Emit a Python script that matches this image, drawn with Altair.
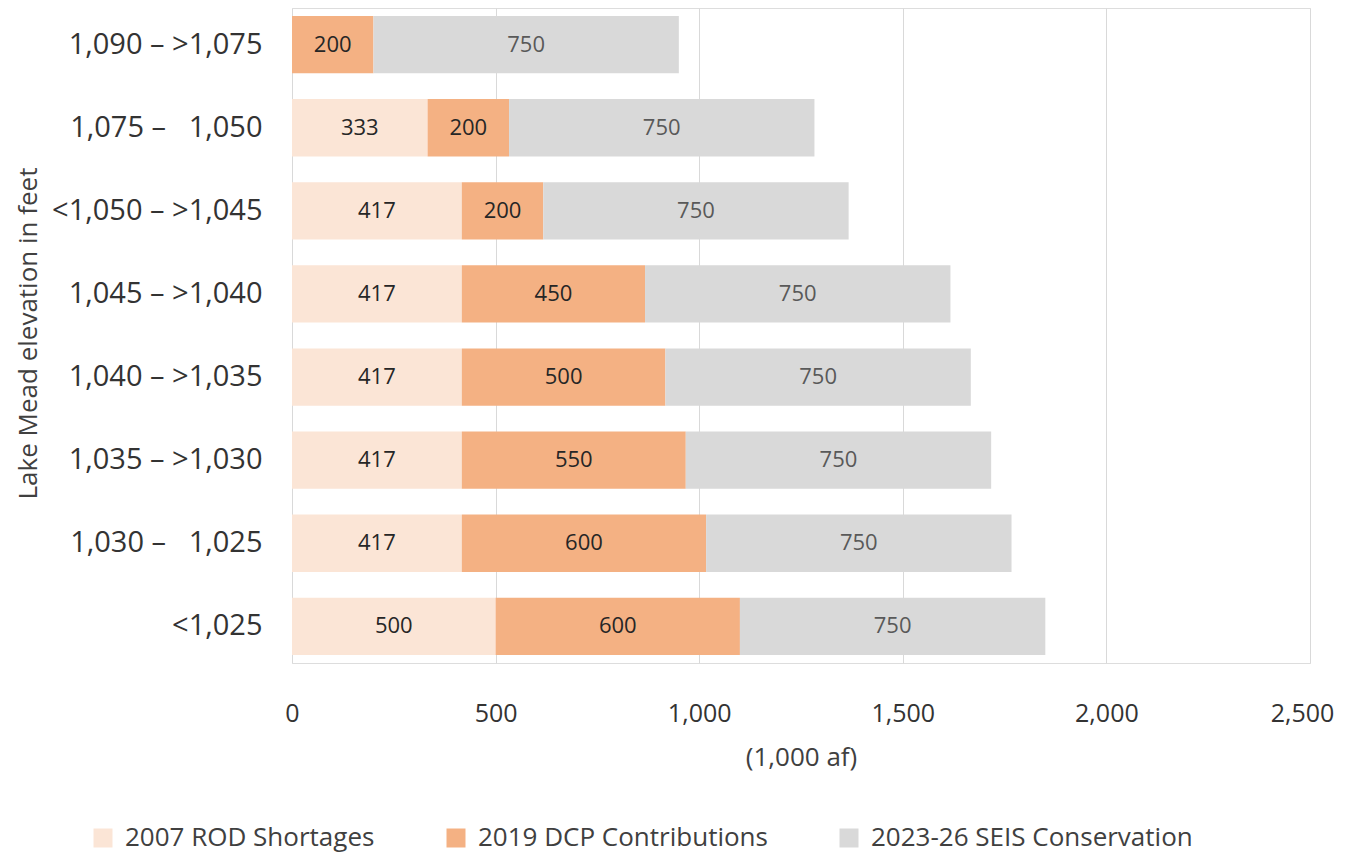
import altair as alt
import pandas as pd

categories = ["1,090 – >1,075", "1,075 –\u00a0\u00a0 1,050", "<1,050 – >1,045", "1,045 – >1,040",
              "1,040 – >1,035", "1,035 – >1,030", "1,030 –\u00a0\u00a0 1,025", "<1,025"]
series = ["2007 ROD Shortages", "2019 DCP Contributions", "2023-26 SEIS Conservation"]
rod = [0, 333, 417, 417, 417, 417, 417, 500]
dcp = [200, 200, 200, 450, 500, 550, 600, 600]
seis = [750, 750, 750, 750, 750, 750, 750, 750]
colors = ["#FBE5D6", "#F4B183", "#D9D9D9"]
x_ticks = [0, 500, 1000, 1500, 2000, 2500]

rows = []
for s_idx, (s, vals) in enumerate(zip(series, [rod, dcp, seis])):
    for c, v in zip(categories, vals):
        if v > 0:
            rows.append({"cat": c, "series": s, "order": s_idx, "value": v})
df = pd.DataFrame(rows)

FONT = "Open Sans"

base = alt.Chart(df).transform_stack(
    stack="value", as_=["x0", "x1"], groupby=["cat"], sort=[alt.SortField("order")]
).transform_calculate(mid="(datum.x0 + datum.x1) / 2")

y_enc = alt.Y(
    "cat:N", sort=categories,
    scale=alt.Scale(paddingInner=0.31, paddingOuter=0.096),
    axis=alt.Axis(title="Lake Mead elevation in feet", titleFont=FONT, titleFontSize=26,
                  titleFontWeight="normal", titleColor="#404040", titleAngle=270,
                  titleX=-256, titleY=325, titleBaseline="alphabetic", titleAlign="center",
                  labelFont=FONT, labelFontSize=29, labelColor="#333333", labelPadding=30,
                  ticks=False, tickSize=0, domain=False, grid=False, labelLimit=400),
)

bars = base.mark_bar(cornerRadius=0).encode(
    x=alt.X("x0:Q", scale=alt.Scale(domain=[0, 2500], nice=False),
            axis=alt.Axis(values=x_ticks, format=",.0f", title="(1,000 af)", titleFont=FONT,
                          titleFontSize=26, titleFontWeight="normal", titleColor="#404040",
                          titleX=509, titleY=94, titleBaseline="middle", titleAlign="center",
                          labelFont=FONT, labelFontSize=25, labelColor="#333333",
                          labelBaseline="middle", labelPadding=50, ticks=False, tickSize=0,
                          labelOffset={"condition": {"test": "datum.value == 2500", "value": -8},
                                       "value": 0},
                          domain=False, grid=True, gridColor="#D9D9D9", gridWidth=1,
                          labelFlush=False)),
    x2="x1:Q",
    y=y_enc,
    color=alt.Color("series:N", sort=series,
                    scale=alt.Scale(domain=series, range=colors),
                    legend=alt.Legend(title=None, orient="none", direction="horizontal",
                                      legendX=-202, legendY=817, symbolType="square",
                                      symbolSize=361, symbolStrokeWidth=0, symbolOpacity=1,
                                      labelFont=FONT, labelFontSize=26, labelColor="#404040",
                                      labelOffset=9, columnPadding=68, padding=0,
                                      labelLimit=500)),
    order=alt.Order("order:Q"),
)

text_dark = base.transform_filter(alt.datum.order < 2).mark_text(
    font=FONT, fontSize=22, color="#262626", baseline="middle", align="center"
).encode(x=alt.X("mid:Q"), y=alt.Y("cat:N", sort=categories), text=alt.Text("value:Q"))

text_grey = base.transform_filter(alt.datum.order == 2).mark_text(
    font=FONT, fontSize=22, color="#595959", baseline="middle", align="center"
).encode(x=alt.X("mid:Q"), y=alt.Y("cat:N", sort=categories), text=alt.Text("value:Q"))

chart = alt.layer(bars, text_dark, text_grey).properties(
    width=1018, height=655,
    autosize=alt.AutoSizeParams(type="none"),
    padding={"left": 284, "top": 0, "right": 27, "bottom": 191},
).configure_view(stroke=None).configure(background="white")

chart.save("out.html", embed_options={"renderer": "svg", "actions": False})
